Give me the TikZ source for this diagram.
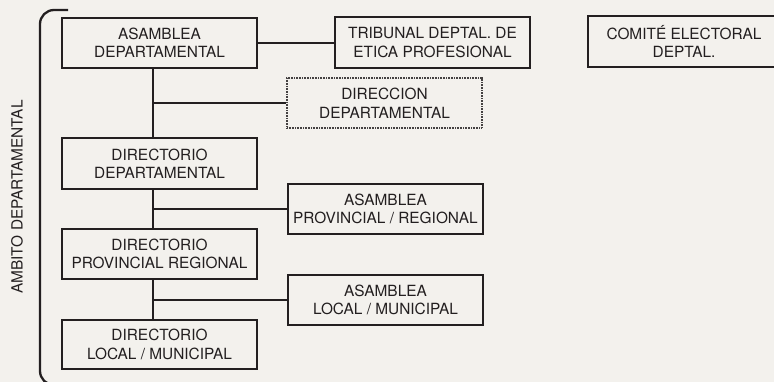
\documentclass[tikz,border=0pt]{standalone}
\usepackage{fontspec}
\setmainfont{TeX Gyre Heros}
\definecolor{bg}{HTML}{F3F1ED}
\definecolor{ink}{HTML}{231F20}
\begin{document}
\begin{tikzpicture}[x=1pt,y=-1pt,
  orgbox/.style={draw=ink, line width=2.6pt, minimum width=195pt, minimum height=50pt,
    inner sep=0pt, align=center, text=ink, font=\fontsize{15.4}{18.5}\selectfont},
  dotbox/.style={orgbox, draw=ink!85, line width=2.4pt, dash pattern=on 1pt off 0.6pt},
  link/.style={draw=ink, line width=2.3pt}]
\useasboundingbox (0,0) rectangle (774,382);
\clip (0,0) rectangle (774,382);
\fill[bg] (0,0) rectangle (774,382);
% bracket
\draw[link, rounded corners=14pt] (68,10) -- (40,10) -- (40,385) -- (72,385);
\node[rotate=90, text=ink, font=\fontsize{15.4}{18}\selectfont] (amb) at (17,197) {AMBITO DEPARTAMENTAL};
% boxes
\node[orgbox] (ad) at (159.5,43) {ASAMBLEA\\DEPARTAMENTAL};
\node[orgbox, minimum height=51pt] (trib) at (432.5,42.5) {TRIBUNAL DEPTAL. DE\\ETICA PROFESIONAL};
\node[dotbox] (dir) at (384.5,103) {DIRECCION\\DEPARTAMENTAL};
\node[orgbox, minimum width=192pt, minimum height=51pt] (com) at (684,41.5) {COMITÉ ELECTORAL\\DEPTAL.};
\node[orgbox, minimum height=51pt] (dd) at (159.5,163.5) {DIRECTORIO\\DEPARTAMENTAL};
\node[orgbox] (ap) at (385.5,209) {ASAMBLEA\\PROVINCIAL / REGIONAL};
\node[orgbox] (dp) at (159.5,254) {DIRECTORIO\\PROVINCIAL REGIONAL};
\node[orgbox] (al) at (385.5,300) {ASAMBLEA\\LOCAL / MUNICIPAL};
\node[orgbox, minimum height=49pt] (dl) at (159.5,344.5) {DIRECTORIO\\LOCAL / MUNICIPAL};
% trunk
\coordinate (t) at (153,0);
\draw[link] (ad.east) -- (ad.east -| trib.west);
\draw[link] (ad.south -| t) -- (dd.north -| t);
\draw[link] (dir.west -| t) -- (dir.west);
\draw[link] (dd.south -| t) -- (dp.north -| t);
\draw[link] (ap.west -| t) -- (ap.west);
\draw[link] (dp.south -| t) -- (dl.north -| t);
\draw[link] (al.west -| t) -- (al.west);
\end{tikzpicture}
\end{document}
